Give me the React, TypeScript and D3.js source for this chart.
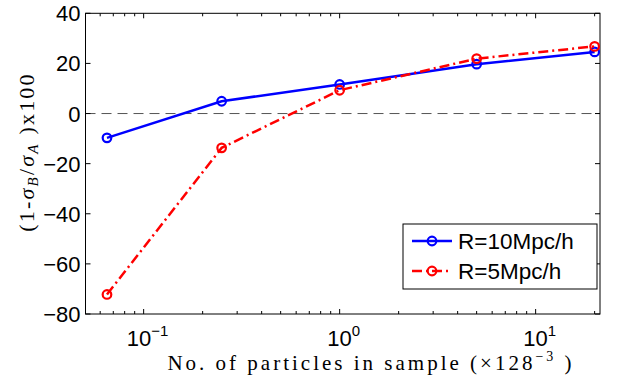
import React, { useEffect, useRef } from 'react';
import * as d3 from 'd3';

const particles = [0.065, 0.25, 1, 5, 20];
const r10Values = [-9.7, 4.9, 11.6, 19.7, 24.6];
const r5Values = [-72.2, -13.7, 9.3, 21.9, 26.8];
const yTicks = [-80, -60, -40, -20, 0, 20, 40];
const xMajorExponents = [-1, 0, 1];
const seriesNames = ['R=10Mpc/h', 'R=5Mpc/h'];

const width = 633;
const height = 389;
const margin = { left: 85.5, right: 33, top: 13.3, bottom: 75 };

function App() {
  const svgRef = useRef<SVGSVGElement | null>(null);

  useEffect(() => {
    const svg = d3.select(svgRef.current);
    svg.selectAll('*').remove();

    const x0 = margin.left;
    const x1 = width - margin.right;
    const y0 = margin.top;
    const y1 = height - margin.bottom;

    const x = d3.scaleLog().domain([0.0505, 21.3]).range([x0, x1]);
    const y = d3.scaleLinear().domain([-80, 40]).range([y1, y0]);

    const sans = 'Liberation Sans, Arial, sans-serif';
    const serif = 'Liberation Serif, Times New Roman, serif';

    // Zero reference line
    svg.append('line')
      .attr('x1', x0).attr('x2', x1)
      .attr('y1', y(0)).attr('y2', y(0))
      .attr('stroke', '#555').attr('stroke-width', 1)
      .attr('stroke-dasharray', '10,6');

    // Box
    svg.append('rect')
      .attr('x', x0).attr('y', y0)
      .attr('width', x1 - x0).attr('height', y1 - y0)
      .attr('fill', 'none').attr('stroke', '#000').attr('stroke-width', 1);

    // X ticks (major and minor), inside on bottom and top
    const minor: number[] = [];
    for (let e = -2; e <= 1; e++) {
      for (let m = 1; m <= 9; m++) {
        const v = m * Math.pow(10, e);
        if (v >= 0.0505 && v <= 21.3) minor.push(v);
      }
    }
    minor.forEach((v) => {
      const major = Math.abs(Math.log10(v) - Math.round(Math.log10(v))) < 1e-9;
      const len = major ? 5 : 3;
      svg.append('line').attr('x1', x(v)).attr('x2', x(v))
        .attr('y1', y1).attr('y2', y1 - len).attr('stroke', '#000');
      svg.append('line').attr('x1', x(v)).attr('x2', x(v))
        .attr('y1', y0).attr('y2', y0 + len).attr('stroke', '#000');
    });

    // X tick labels
    xMajorExponents.forEach((e) => {
      const t = svg.append('text')
        .attr('x', x(Math.pow(10, e)) + 4)
        .attr('y', 346)
        .attr('text-anchor', 'middle')
        .attr('font-family', sans)
        .attr('font-size', 22);
      t.append('tspan').text('10');
      t.append('tspan').attr('dy', -10).attr('font-size', 15).text(e < 0 ? '\u2212' + -e : String(e));
    });

    // Y ticks
    yTicks.forEach((v) => {
      svg.append('line').attr('x1', x0).attr('x2', x0 + 5)
        .attr('y1', y(v)).attr('y2', y(v)).attr('stroke', '#000');
      svg.append('line').attr('x1', x1).attr('x2', x1 - 5)
        .attr('y1', y(v)).attr('y2', y(v)).attr('stroke', '#000');
      svg.append('text')
        .attr('x', x0 - 5)
        .attr('y', y(v) + 8)
        .attr('text-anchor', 'end')
        .attr('font-family', sans)
        .attr('font-size', 22)
        .text(v < 0 ? '\u2212' + -v : String(v));
    });

    // Series
    const pts = (vals: number[]) => particles.map((p, i) => [p, vals[i]] as [number, number]);
    const line = d3.line<[number, number]>().x((d) => x(d[0])).y((d) => y(d[1]));

    const series = [
      { data: pts(r10Values), color: '#0000ff', dash: null as string | null },
      { data: pts(r5Values), color: '#ff0000', dash: '10,4,2,4' },
    ];

    series.forEach((s) => {
      svg.append('path')
        .datum(s.data)
        .attr('d', line)
        .attr('fill', 'none')
        .attr('stroke', s.color)
        .attr('stroke-width', 2.5)
        .attr('stroke-dasharray', s.dash);
      svg.selectAll(null)
        .data(s.data)
        .enter()
        .append('circle')
        .attr('cx', (d) => x(d[0]))
        .attr('cy', (d) => y(d[1]))
        .attr('r', 4.3)
        .attr('fill', 'none')
        .attr('stroke', s.color)
        .attr('stroke-width', 2.2);
    });

    // Legend
    const lg = svg.append('g');
    lg.append('rect')
      .attr('x', 403).attr('y', 224)
      .attr('width', 194).attr('height', 65)
      .attr('fill', '#fff').attr('stroke', '#000').attr('stroke-width', 1);
    series.forEach((s, i) => {
      const ly = 241 + i * 30;
      lg.append('line')
        .attr('x1', 412).attr('x2', 452)
        .attr('y1', ly).attr('y2', ly)
        .attr('stroke', s.color).attr('stroke-width', 2.5)
        .attr('stroke-dasharray', s.dash);
      lg.append('circle')
        .attr('cx', 432).attr('cy', ly).attr('r', 4.3)
        .attr('fill', 'none').attr('stroke', s.color).attr('stroke-width', 2.2);
      lg.append('text')
        .attr('x', 458).attr('y', ly + 8)
        .attr('font-family', sans).attr('font-size', 22.5)
        .text(seriesNames[i]);
    });

    // X axis label
    const xl = svg.append('text')
      .attr('x', 371).attr('y', 370)
      .attr('text-anchor', 'middle')
      .attr('font-family', serif)
      .attr('font-size', 21)
      .attr('letter-spacing', 3);
    xl.append('tspan').text('No. of particles in sample (\u00d7128');
    xl.append('tspan').attr('dy', -9).attr('font-size', 14).text('\u22123');
    xl.append('tspan').attr('dy', 9).text(' )');

    // Y axis label
    const yl = svg.append('text')
      .attr('transform', 'translate(34,152) rotate(-90)')
      .attr('text-anchor', 'middle')
      .attr('font-family', serif)
      .attr('font-size', 22)
      .attr('letter-spacing', 2.2);
    yl.append('tspan').text('(1-');
    yl.append('tspan').attr('font-style', 'italic').text('\u03c3');
    yl.append('tspan').attr('dy', 4).attr('font-size', 15).attr('font-style', 'italic').text('B');
    yl.append('tspan').attr('dy', -4).text('/');
    yl.append('tspan').attr('font-style', 'italic').text('\u03c3');
    yl.append('tspan').attr('dy', 4).attr('font-size', 15).attr('font-style', 'italic').text('A');
    yl.append('tspan').attr('dy', -4).text(' )x100');
  }, []);

  return (
    <svg
      ref={svgRef}
      width={width}
      height={height}
      style={{ position: 'absolute', left: 0, top: 0, background: '#fff' }}
    />
  );
}

export default App;
